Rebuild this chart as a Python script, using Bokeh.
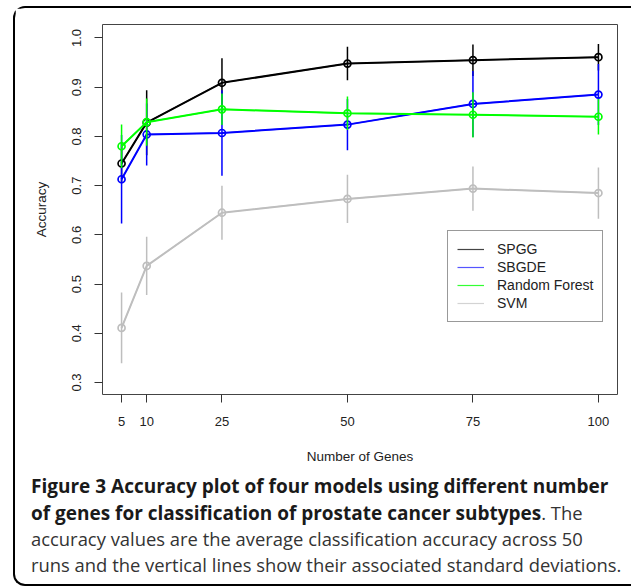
from bokeh.plotting import figure
from bokeh.layouts import column
from bokeh.models import (Range1d, FixedTicker, Div, Legend, LegendItem,
                          ColumnDataSource, PrintfTickFormatter)
from bokeh.embed import file_html
from bokeh.resources import INLINE

# ---- data ----
genes = [5, 10, 25, 50, 75, 100]
x_ticks = [5, 10, 25, 50, 75, 100]
y_ticks = [0.3, 0.4, 0.5, 0.6, 0.7, 0.8, 0.9, 1.0]

series_names = ["SPGG", "SBGDE", "Random Forest", "SVM"]
spgg_mean = [0.745, 0.828, 0.909, 0.948, 0.955, 0.961]
spgg_sd = [0.040, 0.066, 0.050, 0.034, 0.032, 0.027]
sbgde_mean = [0.713, 0.804, 0.807, 0.824, 0.866, 0.885]
sbgde_sd = [0.090, 0.063, 0.087, 0.052, 0.067, 0.062]
rf_mean = [0.780, 0.829, 0.855, 0.847, 0.844, 0.840]
rf_sd = [0.044, 0.048, 0.032, 0.034, 0.046, 0.036]
svm_mean = [0.411, 0.537, 0.645, 0.673, 0.694, 0.685]
svm_sd = [0.072, 0.059, 0.055, 0.049, 0.045, 0.052]

caption_line1 = "Figure 3 Accuracy plot of four models using different number"
caption_line2_bold = "of genes for classification of prostate cancer subtypes"
caption_line2_rest = ". The"
caption_line3 = "accuracy values are the average classification accuracy across 50"
caption_line4 = "runs and the vertical lines show their associated standard deviations."

colors = ["#000000", "#0000FF", "#00FF00", "#BEBEBE"]
legend_colors = ["#444444", "#5555FF", "#33FF33", "#D3D3D3"]

W = 616
H1, H2 = 464, 112

p = figure(width=W, height=H1, output_backend="svg", toolbar_location=None,
           x_range=Range1d(1.2, 103.8), y_range=Range1d(0.2757, 1.0274),
           min_border_left=87, min_border_right=14, min_border_top=16, min_border_bottom=78)
p.background_fill_color = "white"
p.border_fill_color = "white"
p.outline_line_color = "#444444"
p.outline_line_width = 1
p.xgrid.visible = False
p.ygrid.visible = False

for ax in (p.xaxis[0], p.yaxis[0]):
    ax.axis_line_color = None
    ax.major_tick_line_color = "#333333"
    ax.major_tick_line_width = 1
    ax.major_tick_out = 8
    ax.major_tick_in = 0
    ax.minor_tick_line_color = None
    ax.major_label_text_font = "Liberation Sans"
    ax.major_label_text_font_size = "13px"
    ax.major_label_text_color = "#222222"
    ax.axis_label_text_font = "Liberation Sans"
    ax.axis_label_text_font_size = "13.5px"
    ax.axis_label_text_font_style = "normal"
    ax.axis_label_text_color = "#222222"

p.xaxis.ticker = FixedTicker(ticks=x_ticks)
p.yaxis.ticker = FixedTicker(ticks=y_ticks)
p.yaxis.formatter = PrintfTickFormatter(format="%.1f")
p.yaxis.major_label_orientation = "vertical"
p.xaxis.axis_label = "Number of Genes"
p.yaxis.axis_label = "Accuracy"
p.xaxis.major_label_standoff = 14
p.xaxis.axis_label_standoff = 20
p.yaxis.major_label_standoff = 13
p.yaxis.axis_label_standoff = 21

means = [spgg_mean, sbgde_mean, rf_mean, svm_mean]
sds = [spgg_sd, sbgde_sd, rf_sd, svm_sd]
legend_items = []
for name, m, s, c, lc in zip(series_names, means, sds, colors, legend_colors):
    lo = [a - b for a, b in zip(m, s)]
    hi = [a + b for a, b in zip(m, s)]
    src = ColumnDataSource(dict(x=genes, y=m, lo=lo, hi=hi))
    p.segment(x0="x", y0="lo", x1="x", y1="hi", source=src, line_color=c, line_width=1.5)
    # thin line (hidden under the main line) that supplies the legend sample
    thin = p.line(x="x", y="y", source=src, line_color=lc, line_width=1.2)
    p.line(x="x", y="y", source=src, line_color=c, line_width=2)
    p.scatter(x="x", y="y", source=src, marker="circle", size=7, fill_color=None,
              line_color=c, line_width=1.7)
    legend_items.append(LegendItem(label=name, renderers=[thin]))

legend = Legend(items=legend_items, location=(345, 72))
legend.border_line_color = "#333333"
legend.border_line_width = 1
legend.background_fill_color = "white"
legend.background_fill_alpha = 1
legend.label_text_font = "Liberation Sans"
legend.label_text_font_size = "14px"
legend.label_text_color = "#222222"
legend.glyph_width = 27
legend.glyph_height = 18
legend.label_height = 18
legend.spacing = 0
legend.padding = 9
legend.margin = 0
legend.label_standoff = 13
p.add_layout(legend, "center")

# ---- caption ----
caption_html = (
    '<div style="font-family:\'Open Sans\';font-size:18.4px;line-height:25.5px;'
    'padding:1px 0 0 16px;margin:0;white-space:nowrap;color:#333333;">'
    f'<b style="color:#1a1a1a;font-size:19px;">{caption_line1}</b><br>'
    f'<b style="color:#1a1a1a;font-size:19px;">{caption_line2_bold}</b>{caption_line2_rest}<br>'
    f'{caption_line3}<br>'
    f'{caption_line4}'
    '</div>'
)
cap = Div(text=caption_html, width=W, height=H2, margin=0,
          styles={"overflow": "hidden"})

layout = column(p, cap, spacing=0, margin=(6, 0, 0, 13),
                styles={"border-left": "2px solid #000000",
                        "border-top": "2px solid #000000",
                        "border-bottom": "2px solid #000000",
                        "border-top-left-radius": "12px",
                        "border-bottom-left-radius": "12px"})

open("out.html", "w").write(file_html(layout, INLINE))
